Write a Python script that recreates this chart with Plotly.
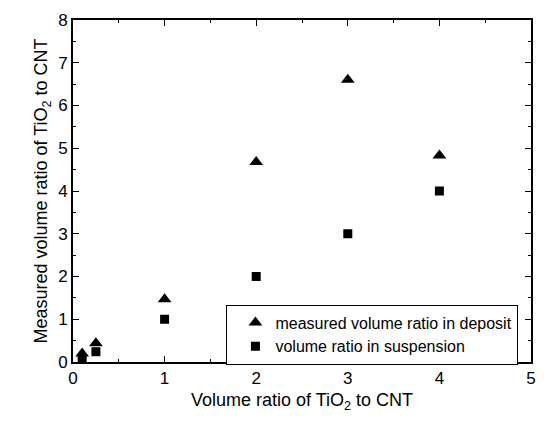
import plotly.graph_objects as go

x_vals = [0.1, 0.25, 1, 2, 3, 4]
deposit = [0.2, 0.44, 1.47, 4.68, 6.6, 4.83]
suspension = [0.08, 0.24, 1.0, 2.0, 3.0, 4.0]
name_dep = "measured volume ratio in deposit"
name_sus = "volume ratio in suspension"

FONT = "Liberation Sans, Arial"

fig = go.Figure()
fig.add_trace(go.Scatter(x=x_vals, y=deposit, mode="markers", name=name_dep,
                         marker=dict(symbol="triangle-up", size=12, color="black")))
fig.add_trace(go.Scatter(x=x_vals, y=suspension, mode="markers", name=name_sus,
                         marker=dict(symbol="square", size=9, color="black")))

axis_common = dict(showline=True, linecolor="black", linewidth=2, mirror="ticks",
                   ticks="inside", ticklen=6, tickwidth=1, tickcolor="black",
                   showgrid=False, zeroline=False,
                   tickfont=dict(family=FONT, size=17, color="black"))

fig.update_xaxes(range=[0, 5], dtick=1, tick0=0,
                 minor=dict(dtick=0.5, ticks="inside", ticklen=3, tickcolor="black", showgrid=False),
                 title=dict(text="Volume ratio of TiO<sub>2</sub> to CNT", standoff=6,
                            font=dict(family=FONT, size=18, color="black")),
                 **axis_common)
fig.update_yaxes(range=[0, 8], dtick=1, tick0=0,
                 minor=dict(dtick=0.5, ticks="inside", ticklen=3, tickcolor="black", showgrid=False),
                 title=dict(text="Measured volume ratio of TiO<sub>2</sub> to CNT", standoff=6,
                            font=dict(family=FONT, size=18, color="black")),
                 **axis_common)

fig.update_layout(
    width=547, height=425,
    margin=dict(l=73, r=11, t=17, b=63),
    plot_bgcolor="white", paper_bgcolor="white",
    legend=dict(x=0.335, y=0.168, xanchor="left", yanchor="top",
                bordercolor="black", borderwidth=1, bgcolor="white",
                indentation=8, tracegroupgap=0,
                font=dict(family=FONT, size=16, color="black")),
)

fig.write_html("out.html", config={"displayModeBar": False},
               post_script="document.body.style.margin='0';document.body.style.overflow='hidden';")
